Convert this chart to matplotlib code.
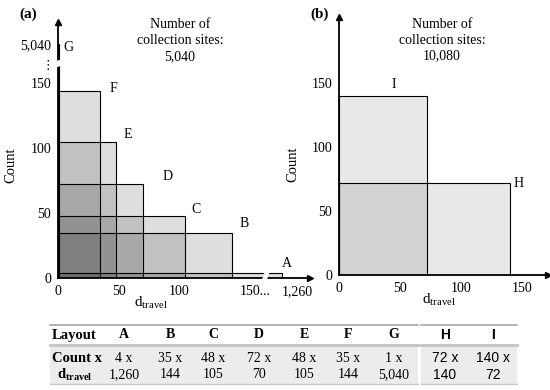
import numpy as np
import matplotlib.pyplot as plt
from matplotlib.patches import Rectangle, Polygon

plt.rcParams['font.family'] = ['Liberation Serif', 'DejaVu Sans']
plt.rcParams['mathtext.fontset'] = 'custom'
plt.rcParams['mathtext.rm'] = 'Liberation Serif'
plt.rcParams['mathtext.bf'] = 'Liberation Serif:bold'
plt.rcParams['mathtext.it'] = 'Liberation Serif:italic'

# panel (a): rectangles as drawn (d_travel along x, count along y)
a_names = ['A', 'B', 'C', 'D', 'E', 'F', 'G']
a_w = [1260, 144, 105, 70, 48, 35, 1]
a_h = [4, 35, 48, 72, 105, 144, 5040]

# panel (b)
b_names = ['I', 'H']
b_w = [72, 140]
b_h = [140, 72]

# table under the plots
tab_layout = ['A', 'B', 'C', 'D', 'E', 'F', 'G', 'H', 'I']
tab_count = [4, 35, 48, 72, 48, 35, 1, 72, 140]
tab_dist = [1260, 144, 105, 70, 105, 144, 5040, 140, 72]

a_xticks = [0, 50, 100, 150, 1260]
a_xlabels = ['0', '50', '100', '150...', '1,260']
a_yticks = [0, 50, 100, 150, 5040]
a_ylabels = ['0', '50', '100', '150', '5,040']
b_ticks = [0, 50, 100, 150]

# broken axes: linear up to the break, squeezed after it
XB, XK = 160, 25 / 1100
YB, YK = 165, 15 / 4875


def fx(x):
    x = np.asarray(x, float)
    return np.where(x <= XB, x, XB + (x - XB) * XK)


def fx_inv(t):
    t = np.asarray(t, float)
    return np.where(t <= XB, t, XB + (t - XB) / XK)


def fy(y):
    y = np.asarray(y, float)
    return np.where(y <= YB, y, YB + (y - YB) * YK)


def fy_inv(t):
    t = np.asarray(t, float)
    return np.where(t <= YB, t, YB + (t - YB) / YK)


W, H = 550, 390
fig = plt.figure(figsize=(5.5, 3.9), dpi=100)


def px_axes(left, top, right, bottom):
    return fig.add_axes([left / W, 1 - bottom / H, (right - left) / W, (bottom - top) / H])


def style_axes(ax):
    for s in ['top', 'right']:
        ax.spines[s].set_visible(False)
    for s in ['left', 'bottom']:
        ax.spines[s].set_linewidth(1.3)
    ax.tick_params(length=0, labelsize=10, pad=5)
    ax.plot(1, 0, '>k', ms=4, transform=ax.transAxes, clip_on=False)
    ax.plot(0, 1, '^k', ms=4, transform=ax.transAxes, clip_on=False)
    ax.set_ylabel('Count', fontsize=10.5)
    ax.set_xlabel(r'$\mathrm{d}_{\mathrm{travel}}$', fontsize=11)


# ---- (a)
ax = px_axes(58, 22, 310, 278)
ax.set_xscale('function', functions=(fx, fx_inv))
ax.set_yscale('function', functions=(fy, fy_inv))
ax.set_xlim(0, float(fx_inv(208)))
ax.set_ylim(0, float(fy_inv(197)))
for w, h in zip(a_w, a_h):
    ax.add_patch(Rectangle((0, 0), w, h, facecolor=(0, 0, 0, 0.13),
                           edgecolor='black', lw=0.8))
a_off = [(5, 9), (12, 9), (11, 6), (25, 8), (12, 7), (13, 2), (9, -3)]
for n, w, h, o in zip(a_names, a_w, a_h, a_off):
    ax.annotate(n, (w, h), xytext=o, textcoords='offset pixels',
                ha='center', va='center', fontsize=10)
ax.set_xticks(a_xticks)
ax.set_xticklabels(a_xlabels)
for lab in ax.get_xticklabels()[3:]:
    lab.set_ha('left')
ax.set_yticks(a_yticks)
ax.set_yticklabels(a_ylabels)
style_axes(ax)
ax.xaxis.set_label_coords(0.37, -0.065)
ax.yaxis.set_label_coords(-0.16, 0.44)
# axis breaks
ax.add_patch(Polygon([(0.806, -0.02), (0.822, 0.035), (0.842, 0.035), (0.826, -0.02)],
                     closed=True, facecolor='white', edgecolor='none',
                     transform=ax.transAxes, clip_on=False, zorder=5))
ax.add_patch(Polygon([(-0.02, 0.818), (0.03, 0.835), (0.03, 0.86), (-0.02, 0.843)],
                     closed=True, facecolor='white', edgecolor='none',
                     transform=ax.transAxes, clip_on=False, zorder=5))
ax.text(-0.04, 0.83, '\u22ee', transform=ax.transAxes, ha='center', va='center',
        fontsize=9, family=['DejaVu Sans'])

# ---- (b)
bx = px_axes(339, 17, 548, 275)
bx.set_xlim(0, 209 / 1.22)
bx.set_ylim(0, 258 / 1.28)
for w, h in zip(b_w, b_h):
    bx.add_patch(Rectangle((0, 0), w, h, facecolor=(0, 0, 0, 0.09),
                           edgecolor='black', lw=0.8))
b_off = [(-33, 11), (9, -1)]
for n, w, h, o in zip(b_names, b_w, b_h, b_off):
    bx.annotate(n, (w, h), xytext=o, textcoords='offset pixels',
                ha='center', va='center', fontsize=10)
bx.set_xticks(b_ticks)
bx.set_yticks(b_ticks)
style_axes(bx)
bx.xaxis.set_label_coords(0.48, -0.065)
bx.yaxis.set_label_coords(-0.19, 0.43)

# ---- overlay in pixel coordinates for titles and the table
ov = fig.add_axes([0, 0, 1, 1])
ov.set_xlim(0, W)
ov.set_ylim(H, 0)
ov.axis('off')

ov.text(28, 14, '(a)', ha='center', va='center', fontsize=11, fontweight='bold')
ov.text(320, 14, '(b)', ha='center', va='center', fontsize=11, fontweight='bold')
ov.text(180, 41, 'Number of\ncollection sites:\n5,040', ha='center', va='center',
        fontsize=10, linespacing=1.3)
ov.text(442, 40, 'Number of\ncollection sites:\n10,080', ha='center', va='center',
        fontsize=10, linespacing=1.3)

col_x = [124, 170, 213, 259, 304, 348, 394, 445, 493]
segs = [(50, 418), (421, 517)]
for x0, x1 in segs:
    ov.add_patch(Rectangle((x0, 345), x1 - x0, 39, facecolor='#ececec', edgecolor='none'))
    ov.plot([x0, x1], [325, 325], color='#a8a8a8', lw=1.2)
    ov.plot([x0, x1], [345, 345], color='#c4c4c4', lw=2)
    ov.plot([x0, x1], [384, 384], color='#c8c8c8', lw=1)

ov.text(52, 335, 'Layout', ha='left', va='center', fontsize=10.5, fontweight='bold')
ov.text(52, 358, 'Count x', ha='left', va='center', fontsize=10.5, fontweight='bold')
ov.text(75, 375, r'$\mathbf{d}_{\mathbf{travel}}$', ha='center', va='center', fontsize=10.5)
for i, (x, n, c, d) in enumerate(zip(col_x, tab_layout, tab_count, tab_dist)):
    fam = ['Liberation Sans'] if i >= 7 else ['Liberation Serif']
    ov.text(x, 335, n, ha='center', va='center', fontsize=10, fontweight='bold', family=fam)
    ov.text(x, 358, f'{c} x', ha='center', va='center', fontsize=10, family=fam)
    ov.text(x, 375, f'{d:,}', ha='center', va='center', fontsize=10, family=fam)

fig.savefig('out.png', dpi=100)
